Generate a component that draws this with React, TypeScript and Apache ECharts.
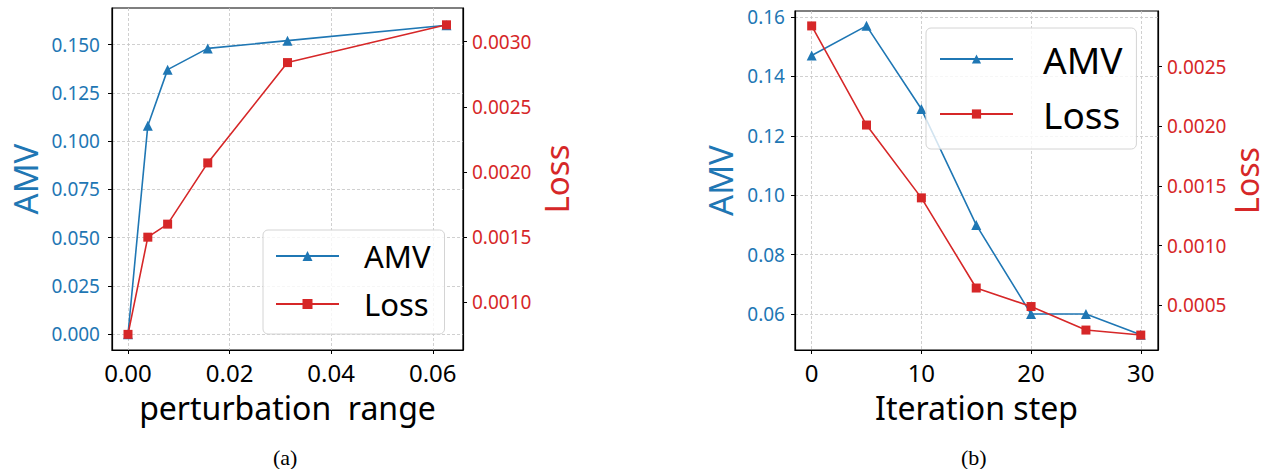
import React, { useEffect, useRef } from "react";
import * as echarts from "echarts";

// ---- data (a) ----
const rangeA = [0, 0.0039, 0.0078, 0.0157, 0.0314, 0.0627];
const amvA = [0.0, 0.108, 0.137, 0.148, 0.152, 0.16];
const lossA = [0.000754, 0.0015, 0.0016, 0.00207, 0.00284, 0.00313];
// ---- data (b) ----
const stepB = [0, 5, 10, 15, 20, 25, 30];
const amvB = [0.147, 0.157, 0.129, 0.09, 0.06, 0.06, 0.053];
const lossB = [0.00284, 0.00201, 0.0014, 0.000645, 0.00049, 0.000293, 0.000251];

// ---- ticks ----
const xTicksA = [0, 0.02, 0.04, 0.06];
const amvTicksA = [0, 0.025, 0.05, 0.075, 0.1, 0.125, 0.15];
const lossTicksA = [0.001, 0.0015, 0.002, 0.0025, 0.003];
const xTicksB = [0, 10, 20, 30];
const amvTicksB = [0.06, 0.08, 0.1, 0.12, 0.14, 0.16];
const lossTicksB = [0.0005, 0.001, 0.0015, 0.002, 0.0025];

const BLUE = "#1f77b4";
const RED = "#d62728";
const FONT = "Noto Sans";

const axisLineStyle = { color: "#000", width: 1.2 };
const gridLine = { show: true, lineStyle: { color: "#c4c4c4", width: 0.8, type: [3, 2] as any } };

function xAxis(gridIndex: number, min: number, max: number, ticks: number[], dec: number, name: string) {
  return {
    type: "value",
    gridIndex,
    min,
    max,
    name,
    nameLocation: "middle",
    nameGap: 42,
    nameTextStyle: { fontFamily: FONT, fontSize: 32, lineHeight: 30, color: "#000" },
    axisLine: { show: true, onZero: false, lineStyle: axisLineStyle },
    axisTick: { show: true, inside: false, length: 4, customValues: ticks, lineStyle: { color: "#000", width: 1 } },
    axisLabel: {
      customValues: ticks,
      margin: 10,
      fontFamily: FONT,
      fontSize: 24,
      lineHeight: 24,
      color: "#000",
      formatter: (v: number) => v.toFixed(dec),
    },
    splitLine: gridLine,
  };
}

function yAxis(
  gridIndex: number,
  position: string,
  min: number,
  max: number,
  ticks: number[],
  dec: number,
  name: string,
  color: string,
  nameGap: number,
  margin: number,
  grid: boolean,
  nameSize: number
) {
  return {
    type: "value",
    gridIndex,
    position,
    min,
    max,
    name,
    nameLocation: "middle",
    nameGap,
    nameTextStyle: { fontFamily: FONT, fontSize: nameSize, lineHeight: 30, color },
    axisLine: { show: true, onZero: false, lineStyle: axisLineStyle },
    axisTick: { show: true, inside: false, length: 4, customValues: ticks, lineStyle: { color: "#000", width: 1 } },
    axisLabel: {
      customValues: ticks,
      margin,
      fontFamily: FONT,
      fontSize: 19,
      color,
      formatter: (v: number) => v.toFixed(dec),
    },
    splitLine: grid ? gridLine : { show: false },
  };
}

function lineSeries(name: string, xi: number, yi: number, xs: number[], ys: number[], color: string, symbol: string, size: number) {
  return {
    type: "line",
    name,
    xAxisIndex: xi,
    yAxisIndex: yi,
    data: xs.map((x, i) => [x, ys[i]]),
    symbol,
    symbolSize: size,
    showAllSymbol: true,
    lineStyle: { color, width: 1.6 },
    itemStyle: { color, borderWidth: 0 },
    emphasis: { disabled: true },
  };
}

export default function App() {
  const ref = useRef<HTMLDivElement>(null);
  useEffect(() => {
    if (!ref.current) return;
    const chart = echarts.init(ref.current, undefined, { renderer: "svg" });
    const legendBase = {
      orient: "vertical",
      backgroundColor: "rgba(255,255,255,0.8)",
      borderColor: "#d4d4d4",
      borderWidth: 1,
      borderRadius: 5,
      selectedMode: false,
    };
    chart.setOption({
      animation: false,
      grid: [
        { left: 112, top: 8, width: 351, height: 342, show: true, borderColor: "#000", borderWidth: 1.2, backgroundColor: "transparent" },
        { left: 795, top: 11, width: 363, height: 339, show: true, borderColor: "#000", borderWidth: 1.2, backgroundColor: "transparent" },
      ],
      xAxis: [
        xAxis(0, -0.00315, 0.06595, xTicksA, 2, "perturbation  range"),
        xAxis(1, -1.52, 31.57, xTicksB, 0, "Iteration step"),
      ],
      yAxis: [
        yAxis(0, "left", -0.0081, 0.1689, amvTicksA, 3, "AMV", BLUE, 72, 12, true, 33),
        yAxis(0, "right", 0.000634, 0.003259, lossTicksA, 4, "Loss", RED, 78, 9, false, 33),
        yAxis(1, "left", 0.0479, 0.162, amvTicksB, 2, "AMV", BLUE, 60, 10, true, 33),
        yAxis(1, "right", 0.000126, 0.002965, lossTicksB, 4, "Loss", RED, 72, 9, false, 32),
      ],
      legend: [
        {
          ...legendBase,
          left: 263,
          top: 230,
          padding: [9, 14, 13, 12],
          itemWidth: 63,
          itemHeight: 12.5,
          itemGap: 14,
          data: [
            { name: "AMV", itemStyle: { color: BLUE } },
            { name: "Loss", itemStyle: { color: RED } },
          ],
          textStyle: { fontFamily: FONT, fontSize: 31, lineHeight: 34, color: "#000", padding: [0, 0, 0, 20] },
        },
        {
          ...legendBase,
          left: 926,
          top: 28,
          padding: [11, 14, 15, 13],
          itemWidth: 73,
          itemHeight: 11.5,
          itemGap: 15,
          data: [
            { name: "AMV", itemStyle: { color: BLUE } },
            { name: "Loss", itemStyle: { color: RED } },
          ],
          textStyle: { fontFamily: FONT, fontSize: 37, lineHeight: 40, color: "#000", padding: [0, 0, 0, 25] },
        },
      ],
      series: [
        lineSeries("AMV", 0, 0, rangeA, amvA, BLUE, "triangle", 10),
        lineSeries("Loss", 0, 1, rangeA, lossA, RED, "rect", 9),
        lineSeries("AMV", 1, 2, stepB, amvB, BLUE, "triangle", 10),
        lineSeries("Loss", 1, 3, stepB, lossB, RED, "rect", 9),
      ],
      graphic: [
        { type: "text", left: 273, top: 446, style: { text: "(a)", fontFamily: "Liberation Serif", fontSize: 22, fill: "#000" } },
        { type: "text", left: 961, top: 446, style: { text: "(b)", fontFamily: "Liberation Serif", fontSize: 22, fill: "#000" } },
      ],
    });
    return () => chart.dispose();
  }, []);
  return (
    <div
      ref={ref}
      style={{ position: "fixed", left: 0, top: 0, width: 1268, height: 469, background: "#fff" }}
    />
  );
}
